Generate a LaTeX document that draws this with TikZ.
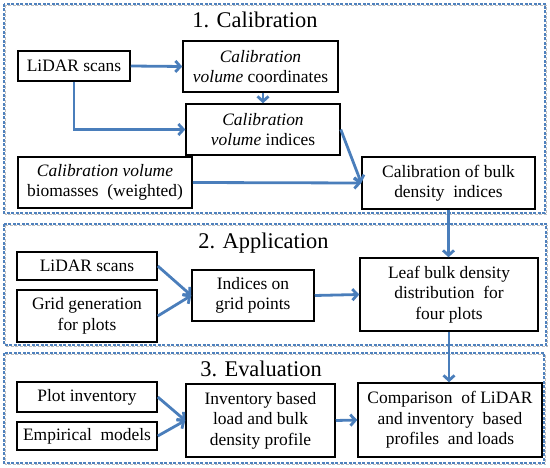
\documentclass[tikz,border=0pt]{standalone}
\usepackage{fontspec}
\setmainfont{Liberation Serif}
\usetikzlibrary{arrows.meta,calc}
\definecolor{arrowblue}{HTML}{4A7EBB}
\definecolor{frameblue}{HTML}{4F81BD}
\tikzset{
  box/.style={draw=black, line width=1.5bp, fill=white, align=center, inner sep=2bp,
    font=\fontsize{17.5}{20.5}\selectfont},
  title/.style={font=\fontsize{22.5}{26}\selectfont, inner sep=0pt, anchor=base},
  frame/.style={draw=frameblue, line width=1.3bp, dash pattern=on 3bp off 1.5bp},
  frameshadow/.style={draw=black!25, line width=1bp, dash pattern=on 3bp off 1.5bp},
  conn/.style={draw=arrowblue, line width=2.8bp,
    -{Straight Barb[length=5bp,width=11bp,line width=2.8bp]}},
}
\begin{document}
\begin{tikzpicture}[x=1bp,y=-1bp]
\useasboundingbox (0,0) rectangle (550,468);
% frames
\draw[frameshadow] (5.5,5.5) rectangle (546.5,214.5);
\draw[frameshadow] (5.5,225.5) rectangle (547.5,346.5);
\draw[frameshadow] (5.5,354.5) rectangle (545.5,464.5);
\draw[frame] (4,4) rectangle (545,213);
\draw[frame] (4,224) rectangle (546,345);
\draw[frame] (4,353) rectangle (544,463);
% titles
\node[title] (t1) at (255,28) {1. Calibration};
\node[title] (t2) at (263.5,249) {2. Application};
\node[title] (t3) at (261,376.5) {3. Evaluation};
% section 1
\node[box, minimum width=112bp, minimum height=30bp] (c1lidar) at (74,66) {LiDAR scans};
\node[box, minimum width=155bp, minimum height=51bp] (c1coord) at (260.5,66.5) {\textit{Calibration}\\\textit{volume} coordinates};
\node[box, minimum width=154bp, minimum height=51bp] (c1ind) at (263,129.5) {\textit{Calibration}\\\textit{volume} indices};
\node[box, minimum width=174bp, minimum height=51bp] (c1bio) at (105,182.5) {\textit{Calibration volume}\\biomasses\ \ (weighted)};
\node[box, minimum width=173bp, minimum height=52bp] (c1cal) at (448.5,183) {Calibration\ of\ bulk\\density\ \ indices};
% section 2
\node[box, minimum width=140bp, minimum height=28bp] (a2lidar) at (87,266) {LiDAR scans};
\node[box, minimum width=140bp, minimum height=52bp] (a2grid) at (87,316) {Grid generation\\for plots};
\node[box, minimum width=122bp, minimum height=51bp] (a2ind) at (253,295.5) {Indices on\\grid points};
\node[box, minimum width=178bp, minimum height=73bp] (a2leaf) at (449,294.5) {Leaf bulk density\\distribution\ \ for\\four plots};
% section 3
\node[box, minimum width=140bp, minimum height=30bp] (e3plot) at (87,397) {Plot inventory};
\node[box, minimum width=140bp, minimum height=28bp] (e3emp) at (87,436) {Empirical\ \ models};
\node[box, minimum width=149bp, minimum height=73bp] (e3inv) at (260.5,420.5) {Inventory based\\load and bulk\\density profile};
\node[box, minimum width=184bp, minimum height=74bp] (e3comp) at (450,420) {Comparison\ \ of LiDAR\\and inventory\ \ based\\profiles\ \ and loads};
% connectors
\draw[conn] (c1lidar.east) -- (c1coord.west);
\draw[conn] (c1lidar.south) |- (c1ind.west);
\draw[conn] (c1ind.north |- c1coord.south) -- (c1ind.north);
\draw[conn] (c1ind.east) -- (c1cal.west);
\draw[conn] (c1bio.east) -- (c1cal.west);
\draw[conn] (c1cal.south) -- (c1cal.south |- a2leaf.north);
\draw[conn] (a2lidar.east) -- (a2ind.west);
\draw[conn] (a2grid.east) -- (a2ind.west);
\draw[conn] (a2ind.east) -- (a2leaf.west);
\draw[conn] (a2leaf.south) -- (a2leaf.south |- e3comp.north);
\draw[conn] (e3plot.east) -- (e3inv.west);
\draw[conn] (e3emp.east) -- (e3inv.west);
\draw[conn] (e3inv.east) -- (e3comp.west);
\end{tikzpicture}
\end{document}
